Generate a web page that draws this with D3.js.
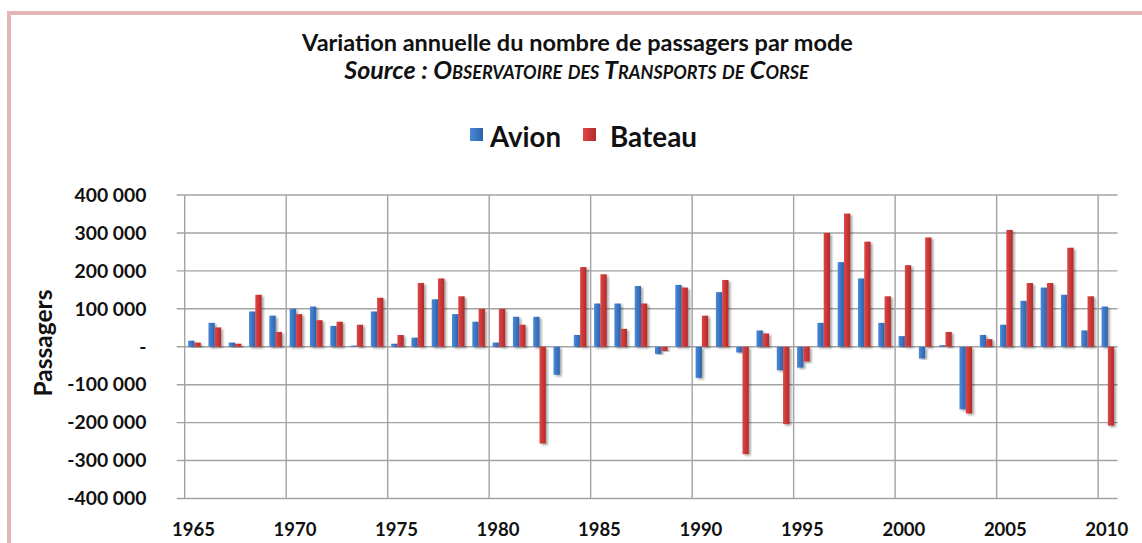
<!DOCTYPE html>
<html>
<head>
<meta charset="utf-8">
<script src="https://cdn.jsdelivr.net/npm/d3@7"></script>
<style>
  html, body { margin: 0; padding: 0; background: #fff; }
  svg { display: block; }
  text { font-family: Lato, "Open Sans", sans-serif; fill: #111; }
</style>
</head>
<body>
<svg id="chart" width="1142" height="543"></svg>
<script>
// ---- Data ----
const years = d3.range(1965, 2011);
const series = ["Avion", "Bateau"];
const avion = [16000, 63000, 11000, 93000, 82000, 100000, 106000, 55000, 3000, 93000,
               8000, 24000, 125000, 86000, 66000, 11000, 79000, 79000, -74000, 31000,
               114000, 114000, 160000, -19000, 163000, -82000, 144000, -15000, 43000, -62000,
               -55000, 63000, 223000, 180000, 63000, 28000, -31000, 4000, -165000, 31000,
               58000, 121000, 156000, 137000, 43000, 106000];
const bateau = [11000, 51000, 8000, 137000, 39000, 86000, 70000, 66000, 58000, 129000,
                31000, 168000, 180000, 133000, 100000, 100000, 58000, -255000, 0, 210000,
                191000, 47000, 114000, -11000, 156000, 82000, 176000, -283000, 35000, -204000,
                -39000, 300000, 351000, 277000, 133000, 215000, 288000, 39000, -176000, 20000,
                308000, 168000, 168000, 261000, 133000, -208000];
const yTicks = [400000, 300000, 200000, 100000, 0, -100000, -200000, -300000, -400000];
const yTickLabels = ["400 000", "300 000", "200 000", "100 000", "-", "-100 000", "-200 000", "-300 000", "-400 000"];
const xLabelYears = [1965, 1970, 1975, 1980, 1985, 1990, 1995, 2000, 2005, 2010];
const titleText = "Variation annuelle du nombre de passagers par mode";
const yTitle = "Passagers";

const colors = { Avion: ["#4a8ad9", "#2d62aa"], Bateau: ["#e04646", "#b02a2a"] };

// ---- Layout ----
const svg = d3.select("#chart");
const pLeft = 184.7, pRight = 1117.6, pTop = 195, pBottom = 498.5;

// page frame
svg.append("rect").attr("x", 7).attr("y", 11).attr("width", 1142).attr("height", 4).attr("fill", "#e4b6b6");
svg.append("rect").attr("x", 7).attr("y", 11).attr("width", 4).attr("height", 540).attr("fill", "#e4b6b6");

const defs = svg.append("defs");
series.forEach(s => {
  const g = defs.append("linearGradient").attr("id", "g" + s).attr("x1", "0").attr("x2", "1").attr("y1", "0").attr("y2", "0");
  g.append("stop").attr("offset", "0%").attr("stop-color", colors[s][0]);
  g.append("stop").attr("offset", "100%").attr("stop-color", colors[s][1]);
});
const flt = defs.append("filter").attr("id", "shadow").attr("x", "-50%").attr("y", "-10%").attr("width", "200%").attr("height", "120%");
flt.append("feDropShadow").attr("dx", 2).attr("dy", 1.5).attr("stdDeviation", 1.3).attr("flood-color", "#000").attr("flood-opacity", 0.35);

function fitText(sel, target) {
  const w = sel.node().getComputedTextLength();
  const fs = parseFloat(sel.attr("font-size"));
  sel.attr("font-size", (fs * target / w).toFixed(2));
}

// ---- Scales ----
const x = d3.scaleBand().domain(years).range([pLeft, pRight]).paddingInner(0.38).paddingOuter(0.17);
const xs = d3.scaleBand().domain(series).range([0, x.bandwidth()]);
const y = d3.scaleLinear().domain([-400000, 400000]).range([pBottom, pTop]);
const bandStart = yr => x(yr) - x.step() * x.paddingOuter();

// ---- Grid ----
const grid = svg.append("g").attr("stroke", "#a3a3a3").attr("stroke-width", 1.4);
yTicks.forEach(t => {
  grid.append("line").attr("x1", pLeft - 8).attr("x2", pRight).attr("y1", y(t)).attr("y2", y(t));
});
xLabelYears.forEach(yr => {
  grid.append("line").attr("x1", bandStart(yr)).attr("x2", bandStart(yr)).attr("y1", pTop).attr("y2", pBottom);
});

// ---- Bars ----
const data = [];
years.forEach((yr, i) => {
  data.push({ year: yr, s: "Avion", v: avion[i] });
  data.push({ year: yr, s: "Bateau", v: bateau[i] });
});
svg.append("g").selectAll("rect").data(data.filter(d => d.v !== 0)).join("rect")
  .attr("x", d => x(d.year) + xs(d.s))
  .attr("width", xs.bandwidth())
  .attr("y", d => y(Math.max(0, d.v)))
  .attr("height", d => Math.abs(y(d.v) - y(0)))
  .attr("fill", d => "url(#g" + d.s + ")")
  .attr("filter", "url(#shadow)");

// ---- Y axis labels ----
const yl = svg.append("g");
yTicks.forEach((t, i) => {
  yl.append("text").attr("x", 146.5).attr("y", y(t)).attr("dy", "0.35em")
    .attr("text-anchor", "end").attr("font-weight", "bold").attr("font-size", 16).text(yTickLabels[i]);
});
const yt = svg.append("text").attr("transform", "translate(52,343) rotate(-90)")
  .attr("text-anchor", "middle").attr("font-weight", "bold").attr("font-size", 18).text(yTitle);
fitText(yt, 107);
{
  const w = yl.select("text").node().getComputedTextLength();
  const fs = 16 * 72 / w;
  yl.selectAll("text").attr("font-size", fs.toFixed(2));
}

// ---- X labels ----
const xl = svg.append("g");
xLabelYears.forEach(yr => {
  xl.append("text").attr("x", x(yr) + x.bandwidth() / 2 - 1).attr("y", 536)
    .attr("text-anchor", "middle").attr("font-weight", "bold").attr("font-size", 17).text(yr);
});
{
  const w = xl.select("text").node().getComputedTextLength();
  xl.selectAll("text").attr("font-size", (17 * 43 / w).toFixed(2));
}

// ---- Title ----
const t1 = svg.append("text").attr("x", 577.5).attr("y", 51).attr("text-anchor", "middle")
  .attr("font-weight", "bold").attr("font-size", 20).text(titleText);
fitText(t1, 551);
const t2 = svg.append("text").attr("x", 576.5).attr("y", 79).attr("text-anchor", "middle")
  .attr("font-style", "italic").attr("font-weight", "bold").attr("font-size", 17);
t2.append("tspan").text("Source : ");
t2.append("tspan").attr("font-variant", "small-caps").text("Observatoire des Transports de Corse");
fitText(t2, 459);

// ---- Legend ----
const legendItems = [
  { s: "Avion", sx: 470, tx: 490, tw: 71 },
  { s: "Bateau", sx: 583, tx: 610, tw: 87 }
];
legendItems.forEach(it => {
  svg.append("rect").attr("x", it.sx).attr("y", 128).attr("width", 13).attr("height", 13)
    .attr("fill", "url(#g" + it.s + ")");
  const lt = svg.append("text").attr("x", it.tx).attr("y", 147).attr("font-weight", "bold")
    .attr("font-size", 22).text(it.s);
  fitText(lt, it.tw);
});
</script>
</body>
</html>
